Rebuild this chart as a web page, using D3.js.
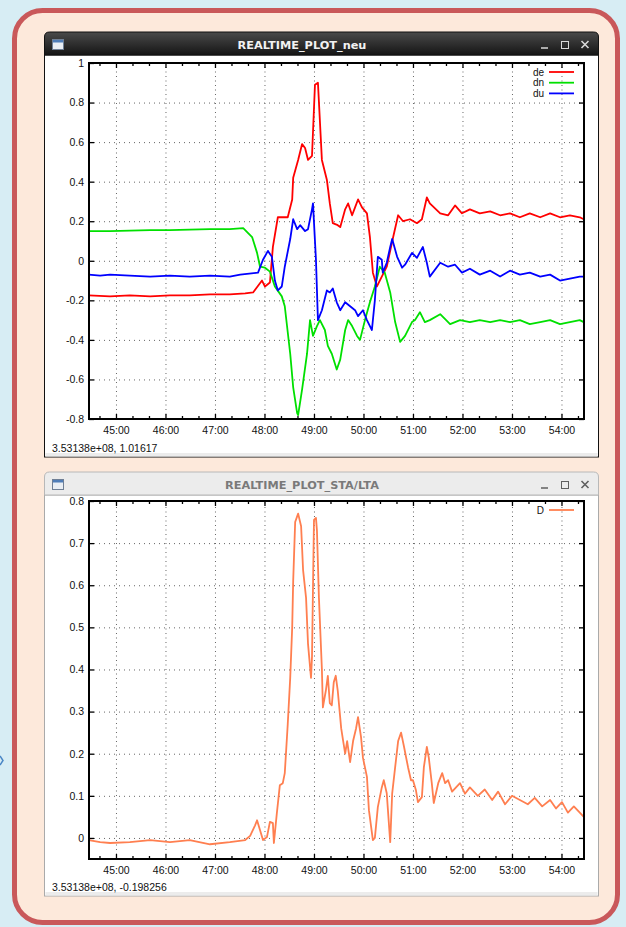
<!DOCTYPE html>
<html>
<head>
<meta charset="utf-8">
<script src="https://cdn.jsdelivr.net/npm/d3@7"></script>
<style>
body { margin: 0; background: #d7edf4; }
svg { display: block; }
text { font-family: "Liberation Sans", Arial, sans-serif; }
</style>
</head>
<body>
<svg id="chart" width="626" height="927"></svg>
<script>
// time in minutes (mm.xx)
var deData = [[44.45,-0.175],[44.88,-0.18],[45.28,-0.175],[45.69,-0.18],[46.09,-0.175],[46.49,-0.175],[46.90,-0.17],[47.30,-0.17],[47.61,-0.165],[47.77,-0.16],[47.95,-0.10],[48.01,-0.13],[48.11,-0.11],[48.17,0.07],[48.27,0.22],[48.47,0.22],[48.56,0.31],[48.58,0.42],[48.68,0.51],[48.76,0.59],[48.82,0.57],[48.88,0.51],[48.96,0.53],[49.02,0.89],[49.08,0.90],[49.16,0.51],[49.26,0.41],[49.32,0.29],[49.38,0.19],[49.48,0.18],[49.53,0.17],[49.63,0.26],[49.69,0.29],[49.77,0.23],[49.83,0.27],[49.89,0.31],[49.97,0.27],[50.07,0.24],[50.13,0.12],[50.19,-0.06],[50.27,-0.13],[50.37,-0.08],[50.47,-0.03],[50.60,0.12],[50.70,0.23],[50.80,0.20],[50.94,0.21],[51.08,0.19],[51.18,0.21],[51.28,0.32],[51.34,0.29],[51.55,0.24],[51.71,0.23],[51.85,0.28],[51.99,0.24],[52.15,0.26],[52.35,0.24],[52.56,0.25],[52.76,0.23],[52.96,0.24],[53.16,0.22],[53.36,0.24],[53.57,0.22],[53.77,0.24],[53.97,0.22],[54.17,0.23],[54.37,0.22],[54.45,0.21]];

var dnData = [[44.45,0.15],[44.88,0.15],[45.28,0.152],[45.69,0.155],[46.09,0.155],[46.49,0.158],[46.90,0.16],[47.30,0.16],[47.57,0.165],[47.75,0.12],[47.85,0.04],[47.91,-0.03],[48.01,-0.035],[48.11,-0.055],[48.21,-0.13],[48.35,-0.18],[48.41,-0.23],[48.52,-0.47],[48.58,-0.64],[48.66,-0.77],[48.68,-0.78],[48.76,-0.65],[48.86,-0.47],[48.92,-0.30],[48.98,-0.38],[49.06,-0.33],[49.12,-0.30],[49.22,-0.35],[49.28,-0.43],[49.36,-0.47],[49.46,-0.55],[49.53,-0.50],[49.63,-0.35],[49.69,-0.30],[49.77,-0.33],[49.87,-0.38],[49.93,-0.40],[50.03,-0.30],[50.13,-0.21],[50.23,-0.13],[50.33,-0.03],[50.43,-0.06],[50.54,-0.16],[50.64,-0.31],[50.74,-0.41],[50.84,-0.38],[50.98,-0.31],[51.04,-0.30],[51.14,-0.26],[51.24,-0.31],[51.34,-0.30],[51.55,-0.27],[51.75,-0.32],[51.95,-0.30],[52.15,-0.31],[52.35,-0.30],[52.56,-0.31],[52.76,-0.30],[52.96,-0.31],[53.16,-0.30],[53.36,-0.32],[53.57,-0.31],[53.77,-0.30],[53.97,-0.32],[54.17,-0.31],[54.37,-0.30],[54.45,-0.31]];

var duData = [[44.45,-0.07],[44.68,-0.075],[44.88,-0.07],[45.28,-0.075],[45.69,-0.08],[46.09,-0.075],[46.49,-0.08],[46.90,-0.075],[47.30,-0.08],[47.51,-0.07],[47.87,-0.06],[47.97,0.005],[48.07,0.05],[48.15,0.02],[48.21,-0.10],[48.27,-0.15],[48.35,-0.13],[48.41,-0.03],[48.52,0.11],[48.58,0.21],[48.66,0.16],[48.72,0.18],[48.82,0.15],[48.88,0.16],[48.96,0.26],[48.98,0.29],[49.04,0.005],[49.08,-0.30],[49.16,-0.25],[49.26,-0.15],[49.32,-0.16],[49.38,-0.14],[49.46,-0.21],[49.53,-0.25],[49.63,-0.21],[49.73,-0.23],[49.83,-0.25],[49.89,-0.28],[49.99,-0.25],[50.07,-0.30],[50.13,-0.33],[50.17,-0.35],[50.23,-0.20],[50.29,0.02],[50.37,0.005],[50.39,-0.06],[50.47,-0.01],[50.54,0.07],[50.58,0.11],[50.68,0.02],[50.78,-0.035],[50.84,-0.02],[50.98,0.04],[51.08,0.015],[51.20,0.07],[51.28,-0.01],[51.34,-0.08],[51.55,-0.01],[51.71,-0.03],[51.85,-0.02],[51.99,-0.06],[52.15,-0.04],[52.35,-0.07],[52.56,-0.05],[52.76,-0.08],[52.96,-0.05],[53.16,-0.07],[53.36,-0.06],[53.57,-0.08],[53.77,-0.07],[53.97,-0.10],[54.17,-0.09],[54.37,-0.08],[54.45,-0.08]];

var staData = [[44.45,-0.005],[44.68,-0.01],[44.88,-0.012],[45.28,-0.01],[45.69,-0.005],[46.09,-0.01],[46.49,-0.005],[46.90,-0.015],[47.30,-0.01],[47.61,-0.005],[47.71,0.005],[47.81,0.03],[47.85,0.042],[47.97,-0.005],[48.05,0.002],[48.11,0.038],[48.17,0.035],[48.19,-0.012],[48.25,0.059],[48.31,0.125],[48.37,0.13],[48.41,0.154],[48.47,0.27],[48.52,0.38],[48.56,0.50],[48.58,0.61],[48.62,0.75],[48.68,0.77],[48.74,0.74],[48.78,0.636],[48.84,0.57],[48.88,0.46],[48.94,0.38],[48.96,0.43],[49.00,0.755],[49.04,0.76],[49.06,0.73],[49.10,0.57],[49.16,0.40],[49.18,0.31],[49.24,0.35],[49.28,0.385],[49.32,0.32],[49.36,0.315],[49.40,0.37],[49.44,0.385],[49.48,0.35],[49.55,0.26],[49.59,0.23],[49.63,0.20],[49.67,0.23],[49.73,0.18],[49.79,0.23],[49.85,0.26],[49.89,0.287],[49.95,0.24],[49.99,0.19],[50.07,0.145],[50.11,0.066],[50.19,-0.005],[50.23,0],[50.29,0.073],[50.37,0.12],[50.41,0.137],[50.47,0.106],[50.54,-0.01],[50.58,0.106],[50.64,0.168],[50.70,0.23],[50.76,0.25],[50.82,0.216],[50.90,0.168],[50.96,0.137],[51.00,0.137],[51.06,0.113],[51.10,0.085],[51.18,0.097],[51.22,0.168],[51.28,0.216],[51.32,0.19],[51.38,0.13],[51.42,0.083],[51.51,0.13],[51.59,0.154],[51.65,0.13],[51.71,0.137],[51.79,0.11],[51.95,0.13],[52.05,0.105],[52.15,0.12],[52.31,0.10],[52.45,0.115],[52.60,0.09],[52.72,0.11],[52.86,0.08],[53.00,0.10],[53.16,0.09],[53.32,0.08],[53.46,0.095],[53.61,0.075],[53.77,0.09],[53.89,0.07],[54.01,0.085],[54.13,0.06],[54.25,0.075],[54.37,0.06],[54.45,0.05]];

var minuteTicks = [45,46,47,48,49,50,51,52,53,54];
var neuTicks = [-0.8,-0.6,-0.4,-0.2,0,0.2,0.4,0.6,0.8,1];
var staTicks = [0,0.1,0.2,0.3,0.4,0.5,0.6,0.7,0.8];
var timeDomain = [44.455, 54.455];

var plotLeft = 89, plotRight = 584;
var svg = d3.select("#chart");

// page background + rounded panel
svg.append("rect").attr("width",626).attr("height",927).attr("fill","#d7edf4");
svg.append("rect").attr("x",14.5).attr("y",10.5).attr("width",603).attr("height",912)
    .attr("rx",28).attr("fill","#fde9db").attr("stroke","#c9585a").attr("stroke-width",5);
svg.append("path").attr("d","M0,756 L3,760.5 L0,765").attr("fill","none")
    .attr("stroke","#4a86c5").attr("stroke-width",1.5);

var defs = svg.append("defs");
var grad = defs.append("linearGradient").attr("id","darkbar")
    .attr("x1",0).attr("y1",0).attr("x2",0).attr("y2",1);
grad.append("stop").attr("offset","0%").attr("stop-color","#4a4a4a");
grad.append("stop").attr("offset","100%").attr("stop-color","#151515");

function makeWindow(y0, h, title, active, status, statusY)
{
    var x0 = 44.5, w = 554, bar = 23, r = 5;
    var g = svg.append("g");
    g.append("rect").attr("x",x0).attr("y",y0+bar).attr("width",w).attr("height",h-bar)
        .attr("fill","#fff").attr("stroke", active ? "#111" : "#aaa");
    g.append("rect").attr("x",x0+1).attr("y",y0+h-4).attr("width",w-2).attr("height",3.5)
        .attr("fill","#ececec");
    g.append("path")
        .attr("d","M"+x0+","+(y0+bar)+" V"+(y0+r)+" Q"+x0+","+y0+" "+(x0+r)+","+y0+
                  " H"+(x0+w-r)+" Q"+(x0+w)+","+y0+" "+(x0+w)+","+(y0+r)+" V"+(y0+bar)+" Z")
        .attr("fill", active ? "url(#darkbar)" : "#ececec")
        .attr("stroke", active ? "#111" : "#b8b8b8");
    g.append("text").attr("x",302).attr("y",y0+16.5).attr("text-anchor","middle")
        .style("font-family","'DejaVu Sans', sans-serif").style("font-weight","bold")
        .style("font-size","11.3px").attr("fill", active ? "#f2f2f2" : "#7a7a7a").text(title);
    // window icon
    g.append("rect").attr("x",52.5).attr("y",y0+7.5).attr("width",11).attr("height",10)
        .attr("fill","#e9eef4").attr("stroke","#6f7f95");
    g.append("rect").attr("x",53).attr("y",y0+8).attr("width",10).attr("height",2.5)
        .attr("fill","#4f7db8");
    // window buttons
    var bc = active ? "#d8d8d8" : "#606060";
    g.append("line").attr("x1",541).attr("x2",548).attr("y1",y0+16).attr("y2",y0+16)
        .attr("stroke",bc).attr("stroke-width",1.5);
    g.append("rect").attr("x",561.5).attr("y",y0+9.5).attr("width",7).attr("height",7)
        .attr("fill","none").attr("stroke",bc);
    g.append("path").attr("d","M581.5,"+(y0+9)+" L588.5,"+(y0+16)+" M588.5,"+(y0+9)+" L581.5,"+(y0+16))
        .attr("stroke",bc).attr("stroke-width",1.6);
    g.append("text").attr("x",52).attr("y",statusY).style("font-size","10.5px")
        .attr("fill","#111").text(status);
}

function makePlot(top, bottom, yDomain, yTicks, series)
{
    var x = d3.scaleLinear().domain(timeDomain).range([plotLeft, plotRight]);
    var y = d3.scaleLinear().domain(yDomain).range([bottom, top]);
    var g = svg.append("g");
    var hgt = bottom - top, wid = plotRight - plotLeft;
    var fmtY = function(v) { return String(+v.toFixed(1)); };
    var fmtX = function(m) { return m + ":00"; };
    var minor = d3.range(44 + 2/3, 54.5, 1/3).filter(function(m) { return Math.abs(m - Math.round(m)) > 0.01; });

    // dotted grid
    g.append("g").attr("transform","translate(0,"+bottom+")")
        .call(d3.axisBottom(x).tickValues(minuteTicks).tickSize(-hgt).tickFormat(""))
        .call(function(a) { a.select(".domain").remove(); })
        .selectAll("line").attr("stroke","#666").attr("stroke-dasharray","1,3.5");
    g.append("g").attr("transform","translate("+plotLeft+",0)")
        .call(d3.axisLeft(y).tickValues(yTicks.filter(function(v) { return v > yDomain[0] && v < yDomain[1]; }))
              .tickSize(-wid).tickFormat(""))
        .call(function(a) { a.select(".domain").remove(); })
        .selectAll("line").attr("stroke","#666").attr("stroke-dasharray","1,4");

    // curves
    var line = d3.line().x(function(d) { return x(d[0]); }).y(function(d) { return y(d[1]); });
    series.forEach(function(s) {
        g.append("path").datum(s.data).attr("d",line).attr("fill","none")
            .attr("stroke",s.color).attr("stroke-width",1.8).attr("stroke-linejoin","round");
    });

    // ticks and labels
    var styleAxis = function(a) {
        a.select(".domain").remove();
        a.selectAll("line").attr("stroke","#000").attr("stroke-width",1.3);
        a.selectAll("text").style("font-family","'Liberation Sans', Arial, sans-serif")
            .style("font-size","10.5px").attr("fill","#111");
    };
    g.append("g").attr("transform","translate(0,"+bottom+")")
        .call(d3.axisBottom(x).tickValues(minuteTicks).tickSize(-5).tickPadding(8).tickFormat(fmtX)).call(styleAxis);
    g.append("g").attr("transform","translate(0,"+top+")")
        .call(d3.axisTop(x).tickValues(minuteTicks).tickSize(-5).tickFormat("")).call(styleAxis);
    g.append("g").attr("transform","translate(0,"+bottom+")")
        .call(d3.axisBottom(x).tickValues(minor).tickSize(-3).tickFormat("")).call(styleAxis);
    g.append("g").attr("transform","translate(0,"+top+")")
        .call(d3.axisTop(x).tickValues(minor).tickSize(-3).tickFormat("")).call(styleAxis);
    g.append("g").attr("transform","translate("+plotLeft+",0)")
        .call(d3.axisLeft(y).tickValues(yTicks).tickSize(-5).tickPadding(5).tickFormat(fmtY)).call(styleAxis);
    g.append("g").attr("transform","translate("+plotRight+",0)")
        .call(d3.axisRight(y).tickValues(yTicks).tickSize(-5).tickFormat("")).call(styleAxis);

    // frame
    g.append("rect").attr("x",plotLeft).attr("y",top).attr("width",wid).attr("height",hgt)
        .attr("fill","none").attr("stroke","#000").attr("stroke-width",2);

    // legend
    series.forEach(function(s, i) {
        var ly = top + 9 + i * 10.7;
        g.append("text").attr("x",544).attr("y",ly + 3.5).attr("text-anchor","end")
            .style("font-size","10px").attr("fill","#111").text(s.name);
        g.append("line").attr("x1",549).attr("x2",574).attr("y1",ly).attr("y2",ly)
            .attr("stroke",s.color).attr("stroke-width",1.8);
    });
}

makeWindow(32, 425, "REALTIME_PLOT_neu", true, "3.53138e+08,  1.01617", 452);
makePlot(63, 419, [-0.8, 1], neuTicks, [
    {name: "de", color: "#ff0000", data: deData},
    {name: "dn", color: "#00e000", data: dnData},
    {name: "du", color: "#0000ff", data: duData}
]);

makeWindow(472, 424, "REALTIME_PLOT_STA/LTA", false, "3.53138e+08, -0.198256", 891);
makePlot(501, 859, [-0.05, 0.8], staTicks, [
    {name: "D", color: "#ff7f50", data: staData}
]);
</script>
</body>
</html>
